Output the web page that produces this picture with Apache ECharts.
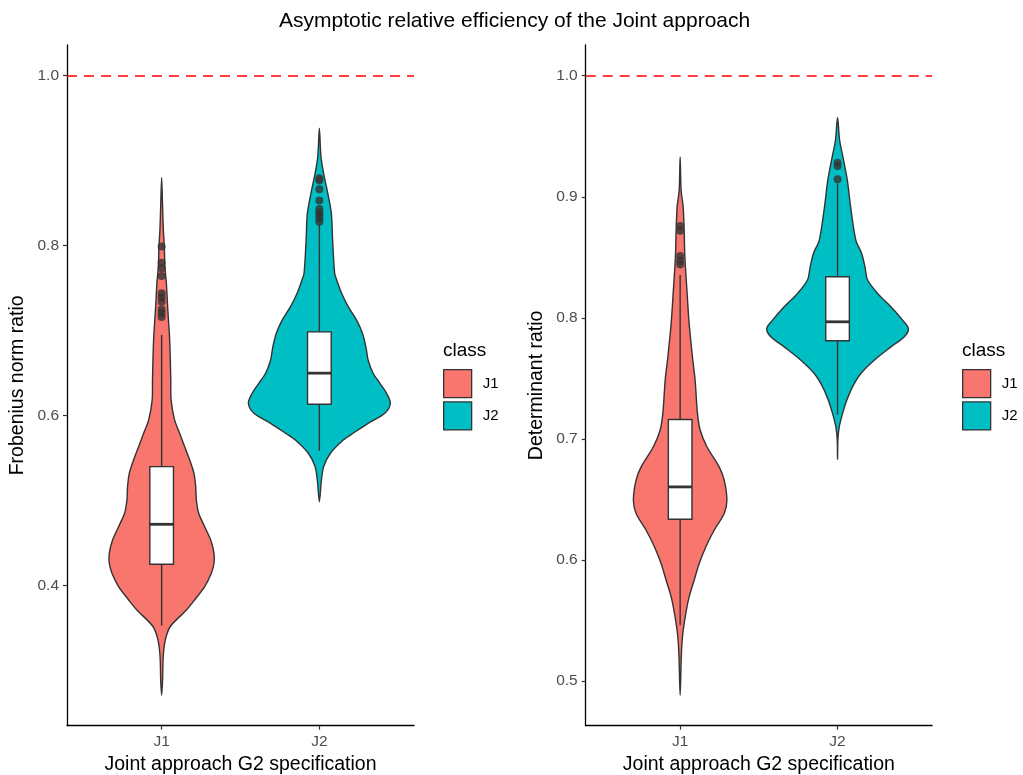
<!DOCTYPE html>
<html>
<head>
<meta charset="utf-8">
<script src="https://cdn.jsdelivr.net/npm/echarts@6/dist/echarts.min.js"></script>
<style>
  html, body { margin: 0; padding: 0; background: #ffffff; }
  #chart { width: 1023px; height: 775px; }
</style>
</head>
<body>
<div id="chart"></div>
<script>
// Categories and fill colours
const categories = ['J1', 'J2'];
const classColors = ['#F8766D', '#00BFC4'];

// Tick values for each panel
const frobTicks = [0.4, 0.6, 0.8, 1.0];
const detTicks = [0.5, 0.6, 0.7, 0.8, 0.9, 1.0];
const referenceLevel = 1.0;

// Violin outlines: [ratio, half-width of the density in category units]
const frobDensityJ1 = [
  [0.271, 0], [0.289, 0.006], [0.3165, 0.010], [0.336, 0.023], [0.352, 0.055],
  [0.3714, 0.157], [0.3832, 0.209], [0.3989, 0.273], [0.4146, 0.315], [0.4264, 0.332],
  [0.4381, 0.332], [0.4538, 0.311], [0.4694, 0.273], [0.4852, 0.235], [0.5008, 0.220],
  [0.5165, 0.216], [0.5322, 0.205], [0.5479, 0.178], [0.5635, 0.146], [0.5793, 0.114],
  [0.595, 0.082], [0.6185, 0.060], [0.642, 0.058], [0.689, 0.051], [0.728, 0.038],
  [0.756, 0.030], [0.775, 0.021], [0.799, 0.017], [0.818, 0.011], [0.846, 0.006],
  [0.880, 0]
];
const frobDensityJ2 = [
  [0.4988, 0], [0.5243, 0.013], [0.540, 0.027], [0.5558, 0.070], [0.5714, 0.152],
  [0.5793, 0.214], [0.591, 0.309], [0.6028, 0.415], [0.6146, 0.450], [0.6264, 0.426],
  [0.638, 0.384], [0.6499, 0.341], [0.6655, 0.309], [0.681, 0.295], [0.697, 0.273],
  [0.7126, 0.235], [0.7282, 0.183], [0.744, 0.141], [0.7596, 0.110], [0.7675, 0.097],
  [0.8067, 0.084], [0.838, 0.076], [0.8655, 0.049], [0.885, 0.027], [0.9047, 0.010],
  [0.938, 0]
];
const detDensityJ1 = [
  [0.4882, 0], [0.5226, 0.008], [0.5392, 0.017], [0.5557, 0.036], [0.5694, 0.057],
  [0.5832, 0.089], [0.597, 0.121], [0.6107, 0.163], [0.6245, 0.216], [0.6383, 0.280],
  [0.6493, 0.297], [0.6659, 0.280], [0.6769, 0.248], [0.6935, 0.170], [0.7073, 0.127],
  [0.721, 0.110], [0.7485, 0.095], [0.7678, 0.078], [0.7954, 0.057], [0.8229, 0.043],
  [0.8504, 0.030], [0.875, 0.025], [0.8917, 0.019], [0.9055, 0.006], [0.933, 0]
];
const detDensityJ2 = [
  [0.683, 0], [0.699, 0.002], [0.710, 0.011], [0.721, 0.032], [0.732, 0.059],
  [0.743, 0.095], [0.754, 0.148], [0.765, 0.233], [0.776, 0.339], [0.7843, 0.424],
  [0.7912, 0.450], [0.7981, 0.413], [0.8091, 0.339], [0.8202, 0.254], [0.8312, 0.191],
  [0.8421, 0.174], [0.8532, 0.153], [0.8642, 0.116], [0.8917, 0.083], [0.9138, 0.062],
  [0.933, 0.034], [0.9469, 0.013], [0.9656, 0]
];

// Box statistics: [lower whisker, Q1, median, Q3, upper whisker]
const frobBoxJ1 = [0.353, 0.4252, 0.4722, 0.540, 0.695];
const frobBoxJ2 = [0.5588, 0.6134, 0.650, 0.6985, 0.8244];
const detBoxJ1 = [0.546, 0.6336, 0.6603, 0.716, 0.8353];
const detBoxJ2 = [0.720, 0.781, 0.7967, 0.8339, 0.911];

// Outlying ratios beyond the whiskers
const frobOutliersJ1 = [0.716, 0.7205, 0.725, 0.734, 0.7393, 0.744, 0.7644, 0.7734, 0.780, 0.799];
const frobOutliersJ2 = [0.8282, 0.8322, 0.8361, 0.839, 0.8432, 0.853, 0.8663, 0.8765, 0.8793];
const detOutliersJ1 = [0.8441, 0.8471, 0.851, 0.8719, 0.8758];
const detOutliersJ2 = [0.9144, 0.9254, 0.9281];

const FONT = '"Liberation Sans", Arial, Helvetica, sans-serif';
const INK = '#333333';
const BOX_HALF = 0.075;
const LINE_W = 1.4;

function violinRenderer(profile, color) {
  return function (params, api) {
    const cat = api.value(0);
    const right = profile.map(([v, w]) => api.coord([cat + w, v]));
    const left = profile.slice(1, -1).reverse().map(([v, w]) => api.coord([cat - w, v]));
    return {
      type: 'polygon',
      shape: { points: right.concat(left), smooth: 0.3 },
      style: { fill: color, stroke: INK, lineWidth: LINE_W, lineJoin: 'round' }
    };
  };
}

function boxRenderer(params, api) {
  const cat = api.value(0);
  const lo = api.value(1), q1 = api.value(2), med = api.value(3), q3 = api.value(4), hi = api.value(5);
  const p = (x, y) => api.coord([x, y]);
  const line = (a, b, w) => ({
    type: 'line',
    shape: { x1: a[0], y1: a[1], x2: b[0], y2: b[1] },
    style: { stroke: INK, lineWidth: w }
  });
  const tl = p(cat - BOX_HALF, q3), br = p(cat + BOX_HALF, q1);
  return {
    type: 'group',
    children: [
      line(p(cat, hi), p(cat, q3), LINE_W),
      line(p(cat, lo), p(cat, q1), LINE_W),
      {
        type: 'rect',
        shape: { x: tl[0], y: tl[1], width: br[0] - tl[0], height: br[1] - tl[1] },
        style: { fill: '#ffffff', stroke: INK, lineWidth: LINE_W }
      },
      line(p(cat - BOX_HALF, med), p(cat + BOX_HALF, med), 2.8)
    ]
  };
}

function panelSeries(idx, densities, boxes, outliers) {
  const out = [];
  categories.forEach((name, i) => {
    out.push({
      type: 'custom', name: name, xAxisIndex: idx, yAxisIndex: idx,
      renderItem: violinRenderer(densities[i], classColors[i]),
      data: [[i + 1, densities[i][0][0]]],
      itemStyle: { color: classColors[i] },
      z: 2, silent: true
    });
  });
  out.push({
    type: 'custom', name: 'box' + idx, xAxisIndex: idx, yAxisIndex: idx,
    renderItem: boxRenderer,
    encode: { x: 0, y: [1, 2, 3, 4, 5] },
    data: boxes.map((b, i) => [i + 1].concat(b)),
    z: 3, silent: true
  });
  out.push({
    type: 'scatter', name: 'outliers' + idx, xAxisIndex: idx, yAxisIndex: idx,
    symbolSize: 8,
    itemStyle: { color: INK },
    data: outliers.flatMap((arr, i) => arr.map(v => [i + 1, v])),
    z: 4, silent: true
  });
  out.push({
    type: 'line', name: 'ref' + idx, xAxisIndex: idx, yAxisIndex: idx,
    data: [],
    markLine: {
      silent: true, symbol: ['none', 'none'], label: { show: false },
      lineStyle: { color: '#FF0000', type: [10, 7], width: 1.5 },
      data: [{ yAxis: referenceLevel }]
    },
    z: 5
  });
  return out;
}

function xAxisFor(idx) {
  return {
    type: 'value', gridIndex: idx, min: 0.4, max: 2.6,
    name: 'Joint approach G2 specification', nameLocation: 'middle', nameGap: 29,
    nameTextStyle: { fontSize: 19.5, color: '#000000', fontFamily: FONT },
    axisLine: { show: true, onZero: false, lineStyle: { color: '#000000', width: 1.3 } },
    axisTick: { show: true, customValues: [1, 2], length: 4, lineStyle: { color: INK, width: 1.2 } },
    axisLabel: {
      customValues: [1, 2], margin: 8,
      formatter: v => categories[Math.round(v) - 1],
      color: '#4D4D4D', fontSize: 15.5, fontFamily: FONT
    },
    splitLine: { show: false }
  };
}

function yAxisFor(idx, min, max, ticks, name) {
  return {
    type: 'value', gridIndex: idx, min: min, max: max,
    name: name, nameLocation: 'middle', nameGap: 39,
    nameTextStyle: { fontSize: 19.5, color: '#000000', fontFamily: FONT },
    axisLine: { show: true, onZero: false, lineStyle: { color: '#000000', width: 1.3 } },
    axisTick: { show: true, customValues: ticks, length: 4, lineStyle: { color: INK, width: 1.2 } },
    axisLabel: {
      customValues: ticks, margin: 8,
      formatter: v => v.toFixed(1),
      color: '#4D4D4D', fontSize: 15.5, fontFamily: FONT
    },
    splitLine: { show: false }
  };
}

function legendFor(left) {
  return {
    left: left, top: 369, orient: 'vertical', padding: 0,
    itemWidth: 28, itemHeight: 28, itemGap: 3,
    selectedMode: false,
    textStyle: { fontSize: 15, color: '#000000', fontFamily: FONT, padding: [0, 0, 0, 6] },
    data: categories.map((c, i) => ({
      name: c, icon: 'rect',
      itemStyle: { color: classColors[i], borderColor: INK, borderWidth: 1.3 }
    }))
  };
}

const chart = echarts.init(document.getElementById('chart'), null, { renderer: 'canvas' });
chart.setOption({
  animation: false,
  backgroundColor: '#ffffff',
  textStyle: { fontFamily: FONT },
  title: [
    { text: 'Asymptotic relative efficiency of the Joint approach', left: 279, top: 11, padding: 0,
      textStyle: { fontSize: 21, fontWeight: 'normal', color: '#000000', fontFamily: FONT } },
    { text: 'class', left: 443, top: 341, padding: 0,
      textStyle: { fontSize: 19, fontWeight: 'normal', color: '#000000', fontFamily: FONT } },
    { text: 'class', left: 962, top: 341, padding: 0,
      textStyle: { fontSize: 19, fontWeight: 'normal', color: '#000000', fontFamily: FONT } }
  ],
  legend: [legendFor(443), legendFor(962)],
  grid: [
    { left: 67, top: 45, width: 347, height: 680.7, outerBoundsMode: 'none' },
    { left: 585.7, top: 45, width: 346.3, height: 680.7, outerBoundsMode: 'none' }
  ],
  xAxis: [xAxisFor(0), xAxisFor(1)],
  yAxis: [
    yAxisFor(0, 0.2353, 1.036, frobTicks, 'Frobenius norm ratio'),
    yAxisFor(1, 0.463, 1.0254, detTicks, 'Determinant ratio')
  ],
  series: [].concat(
    panelSeries(0, [frobDensityJ1, frobDensityJ2], [frobBoxJ1, frobBoxJ2], [frobOutliersJ1, frobOutliersJ2]),
    panelSeries(1, [detDensityJ1, detDensityJ2], [detBoxJ1, detBoxJ2], [detOutliersJ1, detOutliersJ2])
  )
});
</script>
</body>
</html>
